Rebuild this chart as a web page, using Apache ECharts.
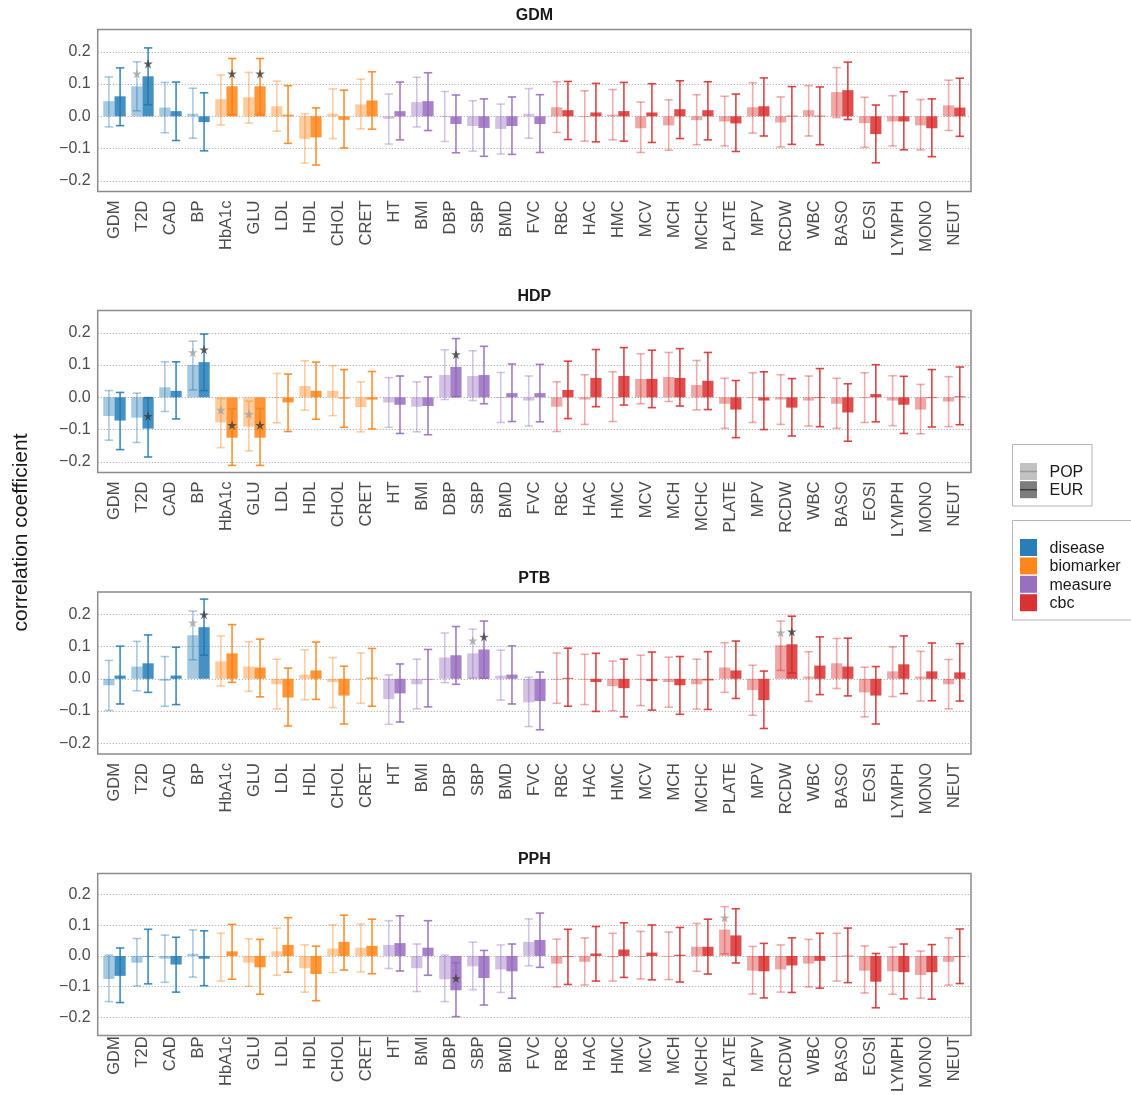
<!DOCTYPE html>
<html>
<head>
<meta charset="utf-8">
<title>correlation coefficient by trait</title>
<script src="https://cdn.jsdelivr.net/npm/echarts@6/dist/echarts.min.js"></script>
<style>
  html, body { margin: 0; padding: 0; background: #ffffff; }
  #chart { width: 1131px; height: 1095px; }
</style>
</head>
<body>
<div id="chart"></div>
<script>
// ---- traits on the x axis and their groups ----
const categories = ['GDM','T2D','CAD','BP','HbA1c','GLU','LDL','HDL','CHOL','CRET','HT','BMI','DBP','SBP','BMD','FVC','RBC','HAC','HMC','MCV','MCH','MCHC','PLATE','MPV','RCDW','WBC','BASO','EOSI','LYMPH','MONO','NEUT'];
const traitGroups = ['disease','disease','disease','disease','biomarker','biomarker','biomarker','biomarker','biomarker','biomarker','measure','measure','measure','measure','measure','measure','cbc','cbc','cbc','cbc','cbc','cbc','cbc','cbc','cbc','cbc','cbc','cbc','cbc','cbc','cbc'];
const groupNames = ['disease','biomarker','measure','cbc'];
const groupRGB = { disease: [31,119,180], biomarker: [255,127,14], measure: [148,103,189], cbc: [214,39,40] };
const panelNames = ['GDM','HDP','PTB','PPH'];
const yTicks = [-0.2, -0.1, 0.0, 0.1, 0.2];

// ---- GDM ----
const gdmPop   = [0.047,0.093,0.027,0.008,0.053,0.059,0.031,-0.070,0.008,0.037,-0.008,0.044,-0.001,-0.030,-0.039,0.008,0.028,-0.001,0.005,-0.037,-0.028,-0.012,-0.016,0.028,-0.019,0.019,0.075,-0.021,-0.016,-0.028,0.034];
const gdmPopLo = [-0.033,0.017,-0.051,-0.068,-0.027,-0.021,-0.046,-0.145,-0.069,-0.039,-0.086,-0.033,-0.078,-0.108,-0.117,-0.068,-0.050,-0.077,-0.073,-0.112,-0.105,-0.088,-0.092,-0.052,-0.095,-0.061,-0.004,-0.096,-0.092,-0.104,-0.044];
const gdmPopHi = [0.122,0.169,0.105,0.087,0.128,0.136,0.109,0.008,0.085,0.115,0.069,0.121,0.077,0.048,0.038,0.086,0.107,0.079,0.083,0.044,0.051,0.067,0.062,0.104,0.060,0.095,0.151,0.059,0.064,0.052,0.112];
const gdmEur   = [0.062,0.124,0.016,-0.018,0.093,0.093,0.005,-0.065,-0.011,0.049,0.016,0.047,-0.024,-0.036,-0.030,-0.024,0.019,0.012,0.016,0.012,0.022,0.019,-0.022,0.031,0.002,0.002,0.081,-0.055,-0.016,-0.037,0.027];
const gdmEurLo = [-0.029,0.036,-0.075,-0.107,0.005,0.005,-0.084,-0.151,-0.098,-0.040,-0.073,-0.044,-0.113,-0.124,-0.118,-0.112,-0.072,-0.079,-0.077,-0.081,-0.069,-0.073,-0.109,-0.061,-0.087,-0.088,-0.010,-0.144,-0.104,-0.125,-0.062];
const gdmEurHi = [0.150,0.212,0.106,0.073,0.179,0.179,0.095,0.026,0.081,0.138,0.106,0.135,0.066,0.054,0.060,0.067,0.108,0.102,0.105,0.101,0.110,0.107,0.069,0.119,0.092,0.091,0.168,0.035,0.076,0.054,0.118];
const gdmPopSig = ['T2D'];
const gdmEurSig = ['T2D','HbA1c','GLU'];

// ---- HDP ----
const hdpPop   = [-0.058,-0.063,0.031,0.100,-0.078,-0.091,0.000,0.035,0.020,-0.030,-0.016,-0.029,0.069,0.066,0.000,-0.010,-0.029,-0.007,0.000,0.057,0.063,0.038,-0.020,0.000,-0.007,-0.010,-0.020,0.000,-0.010,-0.038,-0.013];
const hdpPopLo = [-0.133,-0.140,-0.044,0.023,-0.156,-0.166,-0.079,-0.040,-0.057,-0.107,-0.093,-0.107,-0.007,-0.010,-0.078,-0.089,-0.106,-0.084,-0.075,-0.020,-0.013,-0.039,-0.096,-0.078,-0.084,-0.089,-0.096,-0.078,-0.088,-0.113,-0.091];
const hdpPopHi = [0.021,0.013,0.110,0.174,-0.004,-0.012,0.074,0.113,0.098,0.048,0.061,0.048,0.147,0.144,0.077,0.066,0.048,0.070,0.079,0.135,0.139,0.114,0.059,0.076,0.070,0.066,0.059,0.076,0.067,0.040,0.064];
const hdpEur   = [-0.072,-0.097,0.020,0.109,-0.125,-0.125,-0.016,0.020,-0.004,-0.007,-0.023,-0.027,0.094,0.069,0.013,0.013,0.023,0.060,0.066,0.057,0.060,0.051,-0.038,-0.010,-0.032,0.000,-0.047,0.010,-0.023,-0.002,0.003];
const hdpEurLo = [-0.162,-0.185,-0.067,0.021,-0.211,-0.211,-0.106,-0.068,-0.093,-0.098,-0.112,-0.116,0.002,-0.020,-0.075,-0.076,-0.066,-0.029,-0.024,-0.032,-0.027,-0.038,-0.125,-0.100,-0.120,-0.091,-0.136,-0.076,-0.112,-0.092,-0.085];
const hdpEurHi = [0.015,-0.001,0.110,0.196,-0.035,-0.035,0.072,0.109,0.086,0.080,0.066,0.063,0.182,0.158,0.103,0.102,0.112,0.148,0.154,0.146,0.151,0.139,0.052,0.079,0.058,0.089,0.042,0.101,0.065,0.086,0.094];
const hdpPopSig = ['BP','HbA1c','GLU'];
const hdpEurSig = ['T2D','BP','HbA1c','GLU','DBP'];

// ---- PTB ----
const ptbPop   = [-0.020,0.038,-0.006,0.135,0.054,0.038,-0.017,0.013,-0.010,0.000,-0.063,-0.017,0.066,0.079,0.010,-0.073,0.000,0.000,-0.023,-0.003,-0.010,-0.017,0.035,-0.035,0.104,0.007,0.048,-0.042,0.023,0.007,-0.017];
const ptbPopLo = [-0.098,-0.037,-0.085,0.059,-0.022,-0.039,-0.093,-0.065,-0.089,-0.076,-0.141,-0.093,-0.012,0.002,-0.066,-0.148,-0.076,-0.080,-0.099,-0.083,-0.088,-0.094,-0.042,-0.113,0.026,-0.070,-0.030,-0.118,-0.055,-0.069,-0.093];
const ptbPopHi = [0.057,0.116,0.069,0.210,0.133,0.115,0.061,0.090,0.066,0.080,0.012,0.061,0.142,0.154,0.089,0.005,0.080,0.076,0.055,0.073,0.067,0.061,0.112,0.042,0.179,0.084,0.125,0.036,0.099,0.085,0.060];
const ptbEur   = [0.010,0.048,0.010,0.160,0.079,0.035,-0.058,0.026,-0.052,0.004,-0.045,0.000,0.073,0.091,0.013,-0.069,0.003,-0.010,-0.029,-0.007,-0.020,-0.005,0.026,-0.066,0.107,0.041,0.038,-0.052,0.045,0.023,0.020];
const ptbEurLo = [-0.078,-0.042,-0.080,0.073,-0.011,-0.056,-0.146,-0.064,-0.140,-0.085,-0.134,-0.087,-0.017,0.002,-0.078,-0.158,-0.085,-0.101,-0.118,-0.097,-0.110,-0.095,-0.061,-0.154,0.018,-0.049,-0.053,-0.140,-0.046,-0.068,-0.069];
const ptbEurHi = [0.101,0.136,0.098,0.247,0.168,0.123,0.033,0.114,0.039,0.094,0.046,0.091,0.162,0.179,0.102,0.021,0.095,0.079,0.061,0.083,0.069,0.084,0.117,0.024,0.194,0.130,0.126,0.038,0.133,0.111,0.109];
const ptbPopSig = ['BP','SBP','RCDW'];
const ptbEurSig = ['BP','SBP','RCDW'];

// ---- PPH ----
const pphPop   = [-0.075,-0.022,-0.009,0.007,0.000,-0.022,0.015,-0.040,0.024,0.027,0.036,-0.040,-0.076,-0.034,-0.044,0.046,-0.025,-0.019,-0.004,0.000,0.000,0.030,0.086,-0.048,-0.044,-0.025,-0.003,-0.048,-0.050,-0.062,-0.019];
const pphPopLo = [-0.149,-0.098,-0.086,-0.069,-0.082,-0.099,-0.063,-0.118,-0.054,-0.052,-0.041,-0.116,-0.149,-0.110,-0.119,-0.032,-0.101,-0.095,-0.082,-0.075,-0.077,-0.050,0.007,-0.124,-0.118,-0.101,-0.082,-0.121,-0.125,-0.138,-0.095];
const pphPopHi = [0.003,0.057,0.068,0.085,0.074,0.056,0.091,0.036,0.102,0.104,0.115,0.039,0.003,0.045,0.036,0.121,0.055,0.059,0.074,0.080,0.078,0.106,0.161,0.031,0.036,0.054,0.074,0.033,0.029,0.016,0.059];
const pphEur   = [-0.065,0.000,-0.028,-0.009,0.015,-0.037,0.036,-0.059,0.046,0.033,0.042,0.027,-0.112,-0.072,-0.050,0.052,0.000,0.008,0.021,0.011,0.004,0.030,0.067,-0.050,-0.031,-0.016,0.001,-0.084,-0.053,-0.053,0.000];
const pphEurLo = [-0.152,-0.091,-0.118,-0.097,-0.076,-0.125,-0.053,-0.146,-0.046,-0.058,-0.049,-0.063,-0.198,-0.160,-0.138,-0.037,-0.093,-0.082,-0.070,-0.078,-0.085,-0.059,-0.023,-0.137,-0.119,-0.105,-0.087,-0.169,-0.140,-0.141,-0.090];
const pphEurHi = [0.026,0.087,0.061,0.082,0.103,0.054,0.125,0.032,0.133,0.120,0.131,0.115,-0.022,0.018,0.039,0.140,0.087,0.096,0.108,0.101,0.093,0.120,0.154,0.041,0.059,0.074,0.091,0.008,0.039,0.037,0.088];
const pphPopSig = ['PLATE'];
const pphEurSig = ['DBP'];

// ---- assemble panels ----
const panels = [
  { name: 'GDM', pop: [gdmPop, gdmPopLo, gdmPopHi], eur: [gdmEur, gdmEurLo, gdmEurHi], popSig: gdmPopSig, eurSig: gdmEurSig },
  { name: 'HDP', pop: [hdpPop, hdpPopLo, hdpPopHi], eur: [hdpEur, hdpEurLo, hdpEurHi], popSig: hdpPopSig, eurSig: hdpEurSig },
  { name: 'PTB', pop: [ptbPop, ptbPopLo, ptbPopHi], eur: [ptbEur, ptbEurLo, ptbEurHi], popSig: ptbPopSig, eurSig: ptbEurSig },
  { name: 'PPH', pop: [pphPop, pphPopLo, pphPopHi], eur: [pphEur, pphEurLo, pphEurHi], popSig: pphPopSig, eurSig: pphEurSig }
];

// ---- layout ----
const FONT = '"Liberation Sans", Arial, Helvetica, sans-serif';
const PLOT_LEFT = 97.7, PLOT_WIDTH = 873.3, PLOT_HEIGHT = 162;
const panelTops = [29.5, 310.5, 592, 873.5];
const Y_MIN = -0.233, Y_MAX = 0.269;
const DODGE = 0.2;       // half of the dodge width (in category units)
const HALF_BAR = 0.2;    // half bar width
const HALF_CAP = 0.15;   // half error-bar cap width
const STAR_NUDGE = 0.039;

function rgba(rgb, a) { return 'rgba(' + rgb[0] + ',' + rgb[1] + ',' + rgb[2] + ',' + a + ')'; }

function makeRender(offset, barAlpha, errAlpha) {
  return function (params, api) {
    const i = api.value(0), v = api.value(1), lo = api.value(2), hi = api.value(3);
    const cx = i + offset;
    const rgb = groupRGB[traitGroups[i]];
    const a = api.coord([cx - HALF_BAR, v]);
    const b = api.coord([cx + HALF_BAR, 0]);
    const top = api.coord([cx, hi]);
    const bot = api.coord([cx, lo]);
    const capL = api.coord([cx - HALF_CAP, hi])[0];
    const capR = api.coord([cx + HALF_CAP, hi])[0];
    const errStyle = { stroke: rgba(rgb, errAlpha), lineWidth: 1.6 };
    return {
      type: 'group',
      children: [
        { type: 'rect', shape: { x: a[0], y: Math.min(a[1], b[1]), width: b[0] - a[0], height: Math.max(Math.abs(b[1] - a[1]), 0.8) },
          style: { fill: rgba(rgb, barAlpha) } },
        { type: 'line', shape: { x1: top[0], y1: top[1], x2: bot[0], y2: bot[1] }, style: errStyle },
        { type: 'line', shape: { x1: capL, y1: top[1], x2: capR, y2: top[1] }, style: errStyle },
        { type: 'line', shape: { x1: capL, y1: bot[1], x2: capR, y2: bot[1] }, style: errStyle }
      ]
    };
  };
}

const STAR_PATH = 'path://M50,0 L61.2,34.5 L97.6,34.5 L68.2,55.9 L79.4,90.5 L50,69.1 L20.6,90.5 L31.8,55.9 L2.4,34.5 L38.8,34.5 Z';
const catIndex = categories.map((c, i) => i);

const grids = [], xAxes = [], yAxes = [], series = [], graphics = [];

panels.forEach((p, k) => {
  const top = panelTops[k];
  grids.push({ left: PLOT_LEFT, top: top, width: PLOT_WIDTH, height: PLOT_HEIGHT, show: false });
  xAxes.push({
    gridIndex: k, type: 'value', min: -0.6, max: categories.length - 0.4,
    axisLine: { show: false }, axisTick: { show: false }, splitLine: { show: false },
    axisLabel: {
      customValues: catIndex,
      formatter: v => categories[Math.round(v)],
      rotate: 90, margin: 9, fontSize: 16.5, color: '#4d4d4d', fontFamily: FONT
    }
  });
  yAxes.push({
    gridIndex: k, type: 'value', min: Y_MIN, max: Y_MAX,
    axisLine: { show: false }, axisTick: { show: false },
    splitLine: { show: true, showMinLine: false, showMaxLine: false, lineStyle: { color: '#b0b0b0', type: [1.2, 1.8], width: 1 } },
    axisLabel: {
      margin: 7, fontSize: 16, color: '#4d4d4d', fontFamily: FONT,
      formatter: v => {
        const hit = yTicks.find(t => Math.abs(t - v) < 1e-6);
        if (hit === undefined) return '';
        return hit.toFixed(1).replace('-', '\u2212');
      }
    }
  });

  const popData = catIndex.map(i => [i, p.pop[0][i], p.pop[1][i], p.pop[2][i]]);
  const eurData = catIndex.map(i => [i, p.eur[0][i], p.eur[1][i], p.eur[2][i]]);
  series.push({
    name: p.name + ' POP', type: 'custom', xAxisIndex: k, yAxisIndex: k,
    renderItem: makeRender(-DODGE, 0.4, 0.38), encode: { x: 0, y: [1, 2, 3] }, data: popData, z: 2
  });
  series.push({
    name: p.name + ' EUR', type: 'custom', xAxisIndex: k, yAxisIndex: k,
    renderItem: makeRender(DODGE, 0.82, 0.85), encode: { x: 0, y: [1, 2, 3] }, data: eurData, z: 3
  });
  series.push({
    name: p.name + ' POP sig', type: 'scatter', xAxisIndex: k, yAxisIndex: k,
    symbol: STAR_PATH, symbolSize: 9.5, itemStyle: { color: '#a3a3a3' }, z: 5, silent: true,
    data: p.popSig.map(c => { const i = categories.indexOf(c); return [i - DODGE, p.pop[0][i] + STAR_NUDGE]; })
  });
  series.push({
    name: p.name + ' EUR sig', type: 'scatter', xAxisIndex: k, yAxisIndex: k,
    symbol: STAR_PATH, symbolSize: 9.5, itemStyle: { color: '#3d3d3d' }, z: 5, silent: true,
    data: p.eurSig.map(c => { const i = categories.indexOf(c); return [i + DODGE, p.eur[0][i] + STAR_NUDGE]; })
  });

  // panel frame and strip title
  graphics.push({ type: 'rect', shape: { x: PLOT_LEFT, y: top, width: PLOT_WIDTH, height: PLOT_HEIGHT },
    style: { fill: null, stroke: '#8c8c8c', lineWidth: 1.5 }, z: 10, silent: true });
  graphics.push({ type: 'text', x: PLOT_LEFT + PLOT_WIDTH / 2, y: top - 13.5,
    style: { text: p.name, font: 'bold 16px ' + FONT, fill: '#1a1a1a', align: 'center', verticalAlign: 'middle', textAlign: 'center', textVerticalAlign: 'middle' } });
});

// shared y-axis title
graphics.push({ type: 'text', x: 21.5, y: 532.5, rotation: Math.PI / 2,
  style: { text: 'correlation coefficient', font: '21px ' + FONT, fill: '#1a1a1a', align: 'center', verticalAlign: 'middle', textAlign: 'center', textVerticalAlign: 'middle' } });

// legend: population
const popLegend = [
  { label: 'POP', fill: '#c2c2c2', line: '#9a9a9a' },
  { label: 'EUR', fill: '#7d7d7d', line: '#3d3d3d' }
];
graphics.push({ type: 'rect', shape: { x: 1012.5, y: 444.5, width: 79.5, height: 61.5 }, style: { fill: '#ffffff', stroke: '#b5b5b5', lineWidth: 1 } });
popLegend.forEach((e, j) => {
  const y = 463 + j * 18.2;
  graphics.push({ type: 'rect', shape: { x: 1020, y: y, width: 17, height: 17 }, style: { fill: e.fill } });
  graphics.push({ type: 'line', shape: { x1: 1020, y1: y + 8.5, x2: 1037, y2: y + 8.5 }, style: { stroke: e.line, lineWidth: 1.5 } });
  graphics.push({ type: 'text', x: 1049.5, y: y + 9.3,
    style: { text: e.label, font: '16px ' + FONT, fill: '#1a1a1a', align: 'left', verticalAlign: 'middle', textAlign: 'left', textVerticalAlign: 'middle' } });
});

// legend: trait group
graphics.push({ type: 'rect', shape: { x: 1012.5, y: 520.5, width: 130, height: 99.5 }, style: { fill: '#ffffff', stroke: '#b5b5b5', lineWidth: 1 } });
groupNames.forEach((g, j) => {
  const y = 539 + j * 18.4;
  graphics.push({ type: 'rect', shape: { x: 1020, y: y, width: 17, height: 17 }, style: { fill: rgba(groupRGB[g], 0.95) } });
  graphics.push({ type: 'text', x: 1049.5, y: y + 9.3,
    style: { text: g, font: '16px ' + FONT, fill: '#1a1a1a', align: 'left', verticalAlign: 'middle', textAlign: 'left', textVerticalAlign: 'middle' } });
});

const chart = echarts.init(document.getElementById('chart'), null, { renderer: 'canvas' });
chart.setOption({
  backgroundColor: '#ffffff',
  animation: false,
  grid: grids,
  xAxis: xAxes,
  yAxis: yAxes,
  series: series,
  graphic: { elements: graphics }
});
</script>
</body>
</html>
